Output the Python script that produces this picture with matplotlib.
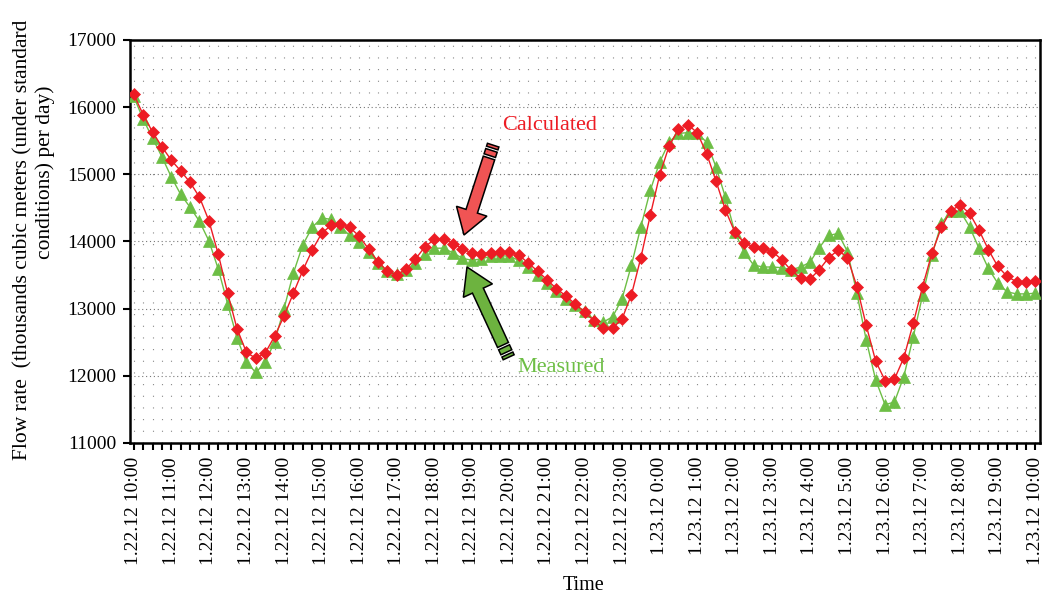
import matplotlib
matplotlib.use('Agg')
import matplotlib.pyplot as plt
import numpy as np
from matplotlib.patches import Polygon

plt.rcParams['font.family'] = ['Liberation Serif', 'DejaVu Serif']

# 15-minute samples from 1.22.12 10:00 to 1.23.12 10:00
calculated = [16190, 15890, 15630, 15410, 15210, 15050, 14880, 14660, 14310, 13810,
              13230, 12700, 12350, 12260, 12340, 12590, 12890, 13230, 13570, 13870,
              14120, 14240, 14260, 14210, 14080, 13890, 13700, 13560, 13500, 13590,
              13740, 13920, 14030, 14040, 13970, 13890, 13830, 13820, 13830, 13840,
              13840, 13800, 13680, 13560, 13430, 13300, 13190, 13070, 12950, 12820,
              12710, 12710, 12850, 13210, 13760, 14390, 14990, 15420, 15670, 15740,
              15620, 15310, 14900, 14470, 14140, 13980, 13920, 13900, 13850, 13730,
              13570, 13460, 13440, 13580, 13760, 13870, 13760, 13330, 12750, 12220,
              11930, 11950, 12270, 12780, 13330, 13830, 14210, 14460, 14540, 14420,
              14170, 13880, 13630, 13480, 13400, 13400, 13410]

measured = [16160, 15820, 15540, 15260, 14960, 14700, 14510, 14300, 14010, 13590,
            13070, 12560, 12200, 12050, 12200, 12510, 13000, 13530, 13950, 14210,
            14350, 14330, 14220, 14090, 13990, 13840, 13680, 13560, 13520, 13570,
            13680, 13820, 13900, 13900, 13830, 13750, 13720, 13740, 13780, 13790,
            13780, 13720, 13620, 13500, 13380, 13260, 13150, 13050, 12970, 12830,
            12800, 12880, 13150, 13650, 14220, 14760, 15180, 15480, 15610, 15620,
            15610, 15480, 15110, 14660, 14140, 13840, 13650, 13620, 13620, 13610,
            13580, 13620, 13690, 13910, 14090, 14120, 13850, 13230, 12530, 11940,
            11570, 11610, 11990, 12580, 13200, 13800, 14270, 14450, 14450, 14220,
            13900, 13600, 13380, 13250, 13220, 13220, 13230]

hour_labels = ['1.22.12 10:00', '1.22.12 11:00', '1.22.12 12:00', '1.22.12 13:00',
               '1.22.12 14:00', '1.22.12 15:00', '1.22.12 16:00', '1.22.12 17:00',
               '1.22.12 18:00', '1.22.12 19:00', '1.22.12 20:00', '1.22.12 21:00',
               '1.22.12 22:00', '1.22.12 23:00', '1.23.12 0:00', '1.23.12 1:00',
               '1.23.12 2:00', '1.23.12 3:00', '1.23.12 4:00', '1.23.12 5:00',
               '1.23.12 6:00', '1.23.12 7:00', '1.23.12 8:00', '1.23.12 9:00',
               '1.23.12 10:00']

W, H = 1045, 597
red = '#ED1C24'
green = '#6DBE45'

fig = plt.figure(figsize=(W/100, H/100), dpi=100)
ax = fig.add_axes([130/W, 1-443/H, 910/W, 403/H])

x = np.arange(len(calculated))
ax.plot(x, measured, color=green, lw=1.0, marker='^', ms=9, mec=green, mew=0.5, zorder=3)
ax.plot(x, calculated, color=red, lw=1.0, marker='D', ms=6.5, mec=red, mew=0.5, zorder=4)

ax.set_xlim(-0.4, 96.5)
ax.set_ylim(11000, 17000)
ax.set_yticks(np.arange(11000, 17001, 1000))
ax.set_xticks(np.arange(0, 97, 4))
ax.set_xticklabels(hour_labels, rotation=90, fontsize=14)
ax.set_xticks(x, minor=True)
ax.tick_params(axis='y', labelsize=14, direction='out', length=5, width=1.5, pad=5)
ax.tick_params(axis='x', which='both', direction='out', length=5, width=1.5, pad=5)

ax.grid(axis='y', which='major', color='#777777', lw=0.8, linestyle=(0, (1, 2.5)))
ax.grid(axis='x', which='both', color='#888888', lw=0.8, linestyle=(0, (1, 9.5)))
ax.set_axisbelow(True)
for s in ax.spines.values():
    s.set_linewidth(1.8)

# y label in two lines, as in the original layout
fig.text(23/W, 1-240/H, 'Flow rate  (thousands cubic meters (under standard',
         rotation=90, ha='center', va='center', fontsize=15.5)
fig.text(45/W, 1-172/H, 'conditions) per day)',
         rotation=90, ha='center', va='center', fontsize=15.5)
fig.text(584/W, 1-585/H, 'Time', ha='center', va='center', fontsize=14.5)


def fp(p):
    return (p[0]/W, 1-p[1]/H)


def block_arrow(tail, tip, shaft_w, head_w, head_len, fc):
    t = np.array(tail, float)
    p = np.array(tip, float)
    d = (p - t)/np.hypot(*(p - t))
    n = np.array([-d[1], d[0]])
    b = p - d*head_len
    pts = [t + n*shaft_w/2, b + n*shaft_w/2, b + n*head_w/2, p,
           b - n*head_w/2, b - n*shaft_w/2, t - n*shaft_w/2]
    fig.patches.append(Polygon([fp(q) for q in pts], closed=True, fc=fc, ec='black',
                               lw=1.1, transform=fig.transFigure, figure=fig))
    # striped tail
    for g0, g1 in [(2.5, 8), (10.5, 13.5)]:
        a, c = t - d*g0, t - d*g1
        pts = [a + n*shaft_w/2, c + n*shaft_w/2, c - n*shaft_w/2, a - n*shaft_w/2]
        fig.patches.append(Polygon([fp(q) for q in pts], closed=True, fc=fc, ec='black',
                                   lw=1.1, transform=fig.transFigure, figure=fig))


block_arrow((489, 158), (464, 235), 12, 32, 25, '#F05454')
block_arrow((503, 345), (467, 267), 12, 32, 26, '#6DB33F')

fig.text(550/W, 1-125/H, 'Calculated', color=red, ha='center', va='center', fontsize=16)
fig.text(561/W, 1-367/H, 'Measured', color=green, ha='center', va='center', fontsize=16)

fig.savefig('out.png', dpi=100)
